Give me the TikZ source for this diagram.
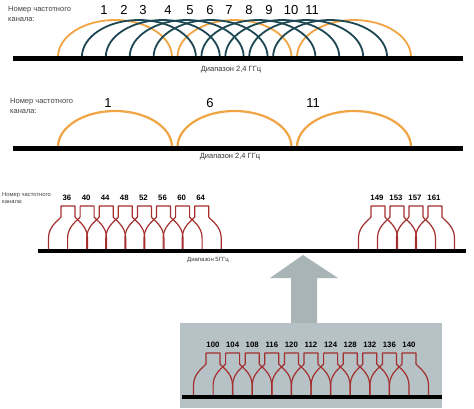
\documentclass[tikz,border=0pt]{standalone}
\usepackage{fontspec}
\setmainfont{Liberation Sans}

\definecolor{chorange}{HTML}{F0A443}
\definecolor{chteal}{HTML}{1D4753}
\definecolor{chred}{HTML}{A3302E}
\definecolor{boxgray}{HTML}{B6C2C5}
\definecolor{arrowgray}{HTML}{A9B4B7}

\tikzset{
	bandline/.style={line width=4.5pt, black},
	arcline/.style={line width=1.8pt},
	chline/.style={line width=1.2pt, chred, line join=round},
	chlabel/.style={font=\fontsize{7.5}{10}\selectfont, text=black!75, align=left, inner sep=0pt, anchor=west},
	smlabel/.style={font=\fontsize{5.8}{6.2}\selectfont, text=black!75, align=left, inner sep=0pt, anchor=west},
	bandlabel/.style={font=\fontsize{7.5}{9}\selectfont, text=black!80, inner sep=0pt},
	bignum/.style={font=\fontsize{13}{13}\selectfont, inner sep=0pt},
	smnum/.style={font=\bfseries\fontsize{7.8}{8}\selectfont, inner sep=0pt},
	chan/.pic={
		\draw[chline] (-19.5,43) -- (-19.5,32) .. controls (-19.5,20) and (-9,14) .. (-7,11) -- (-7,0) -- (7,0) -- (7,11) .. controls (9,14) and (19.5,20) .. (19.5,32) -- (19.5,43);
	}
}

\begin{document}
\begin{tikzpicture}[x=1pt, y=-1pt]
	\useasboundingbox (0,0) rectangle (474,408);

	\node[chlabel] (lbl1) at (8,14) {Номер частотного\\канала:};
	\foreach \n/\x in {1/104,2/124,3/143,4/168,5/190,6/210,7/229,8/249,9/269,10/291,11/312}
		\node[bignum] (a\n) at (\x,10) {\n};
	\foreach \k in {0,5,10}
		\draw[arcline, chorange] ({58+23.9*\k},57) arc[start angle=180, end angle=360, x radius=57, y radius=37];
	\foreach \k in {1,2,3,4,6,7,8,9}
		\draw[arcline, chteal] ({58+23.9*\k},57) arc[start angle=180, end angle=360, x radius=57, y radius=37];
	\draw[bandline] (13,58.3) -- (463,58.3);
	\node[bandlabel] (band1) at (231,70) {Диапазон 2,4 ГГц};

	\node[chlabel] (lbl2) at (10,106) {Номер частотного\\канала:};
	\foreach \n/\x/\k in {1/108/0,6/210/5,11/313/10} {
		\node[bignum] (b\n) at (\x,103) {\n};
		\draw[arcline, line width=2.2pt, chorange] ({58+23.9*\k},147) arc[start angle=180, end angle=360, x radius=57, y radius=36];
	}
	\draw[bandline] (13,148.3) -- (463,148.3);
	\node[bandlabel] (band2) at (230,157) {Диапазон 2,4 ГГц};

	\node[smlabel] (lbl3) at (2,198) {Номер частотного\\канала:};
	\foreach \n [count=\i from 0] in {36,40,...,64} {
		\pic at ({68+19.1*\i},206) {chan};
		\node[smnum] (c\n) at ({67+19.1*\i},198) {\n};
	}
	\foreach \n [count=\i from 0] in {149,153,157,161} {
		\pic at ({378+19*\i},206) {chan};
		\node[smnum] (c\n) at ({377+19*\i},198) {\n};
	}
	\draw[bandline, line width=4pt] (38,251) -- (466,251);
	\node[bandlabel, font=\fontsize{6}{7}\selectfont] (band3) at (208,260) {Диапазон 5ГГц};

	\fill[arrowgray] (291,324) -- (291,278) -- (270,278) -- (303,255) -- (338,278) -- (317,278) -- (317,324) -- cycle;
	\fill[boxgray] (180,323) rectangle (442,408);
	\foreach \n [count=\i from 0] in {100,104,108,116,120,112,124,128,132,136,140} {
		\pic at ({213+19.6*\i},353) {chan};
		\node[smnum] (d\n) at ({213+19.6*\i},345) {\n};
	}
	\draw[bandline, line width=4pt] (182,397) -- (442,397);
\end{tikzpicture}
\end{document}
